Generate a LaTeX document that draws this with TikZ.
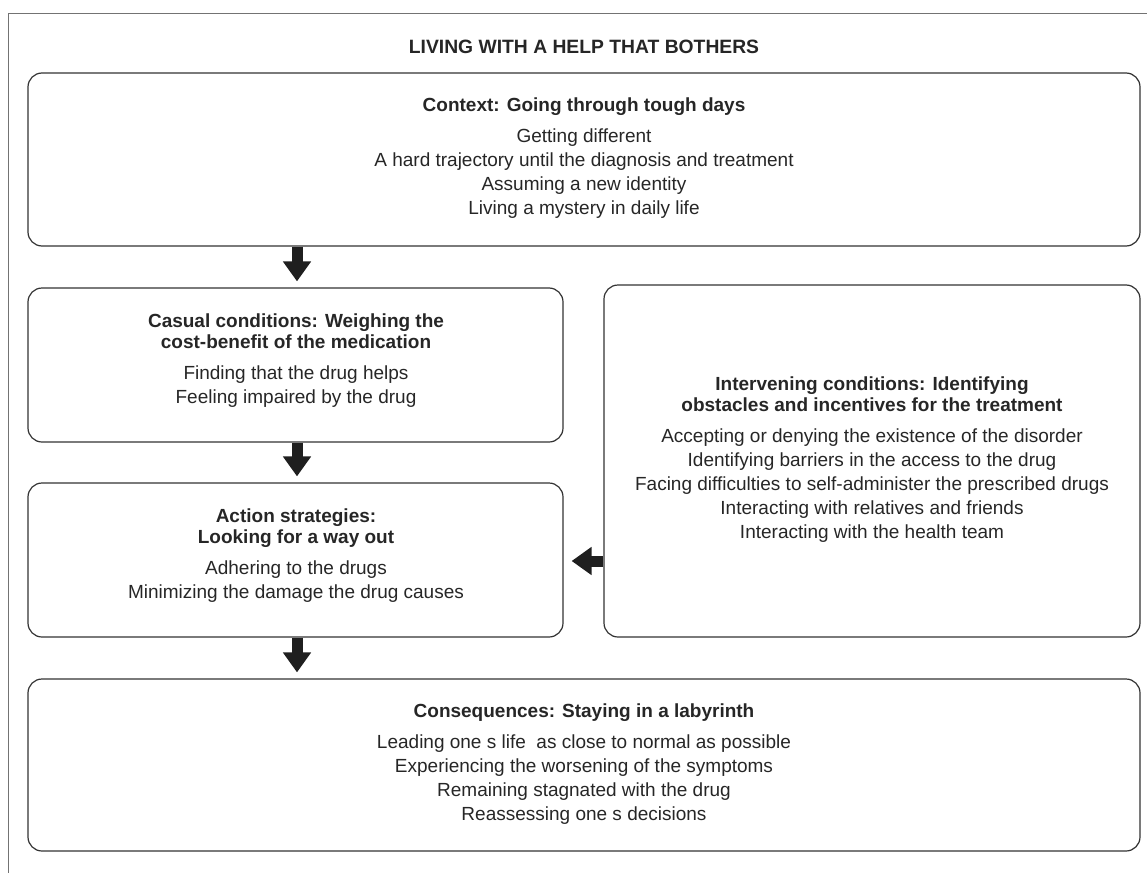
\documentclass[tikz,border=0pt]{standalone}
\usepackage{fontspec}
\setmainfont{Liberation Sans}
\usetikzlibrary{arrows.meta}
\begin{document}
\begin{tikzpicture}[x=1pt,y=-1pt,
  box/.style={draw=black!80,line width=1.2pt,rounded corners=14pt,inner sep=0pt},
  head/.style={font=\fontsize{19}{21}\selectfont\bfseries,align=center,inner sep=0pt,anchor=base,text=black!85},
  item/.style={font=\fontsize{19}{24}\selectfont,align=center,inner sep=0pt,anchor=base,text=black!85},
  flow/.style={-{Triangle[width=27pt,length=20pt]},line width=11pt,draw=black!88}]
\useasboundingbox (0,0) rectangle (1147,872);
\begin{scope}
  \clip (0,0) rectangle (1147,872);
  \draw[black!55,line width=0.9pt] (8,13) rectangle (1170,900);
\end{scope}
% title
\node[head,font=\fontsize{19.3}{21}\selectfont\bfseries] (title) at (584,54) {LIVING WITH A HELP THAT BOTHERS};
% boxes
\node[box,minimum width=1112pt,minimum height=173pt] (ctx) at (584,159.5) {};
\node[box,minimum width=535pt,minimum height=154pt] (cas) at (295.5,365) {};
\node[box,minimum width=536pt,minimum height=352pt] (int) at (872,461) {};
\node[box,minimum width=535pt,minimum height=154pt] (act) at (295.5,560) {};
\node[box,minimum width=1112pt,minimum height=172pt] (con) at (584,765) {};
% context
\node[head] (ctxh) at (584,111) {Context: Going through tough days};
\node[item] (ctx1) at (584,142) {Getting different};
\node[item] (ctx2) at (584,166) {A hard trajectory until the diagnosis and treatment};
\node[item] (ctx3) at (584,190) {Assuming a new identity};
\node[item] (ctx4) at (584,214) {Living a mystery in daily life};
% casual
\node[head] (cash1) at (296,327) {Casual conditions: Weighing the};
\node[head] (cash2) at (296,348) {cost-benefit of the medication};
\node[item] (cas1) at (296,379) {Finding that the drug helps};
\node[item] (cas2) at (296,403) {Feeling impaired by the drug};
% intervening
\node[head] (inth1) at (872,390) {Intervening conditions: Identifying};
\node[head] (inth2) at (872,411) {obstacles and incentives for the treatment};
\node[item] (int1) at (872,442) {Accepting or denying the existence of the disorder};
\node[item] (int2) at (872,466) {Identifying barriers in the access to the drug};
\node[item] (int3) at (872,490) {Facing difficulties to self-administer the prescribed drugs};
\node[item] (int4) at (872,514) {Interacting with relatives and friends};
\node[item] (int5) at (872,538) {Interacting with the health team};
% action
\node[head] (acth1) at (296,522) {Action strategies:};
\node[head] (acth2) at (296,543) {Looking for a way out};
\node[item] (act1) at (296,574) {Adhering to the drugs};
\node[item] (act2) at (296,598) {Minimizing the damage the drug causes};
% consequences
\node[head] (conh) at (584,717) {Consequences: Staying in a labyrinth};
\node[item] (con1) at (584,748) {Leading one s life\ \ as close to normal as possible};
\node[item] (con2) at (584,772) {Experiencing the worsening of the symptoms};
\node[item] (con3) at (584,796) {Remaining stagnated with the drug};
\node[item] (con4) at (584,820) {Reassessing one s decisions};
% arrows
\draw[flow,shorten >=6pt] (ctx.south -| 297,0) -- (cas.north -| 297,0);
\draw[flow,shorten >=6pt] (cas.south -| 297,0) -- (act.north -| 297,0);
\draw[flow,shorten >=6pt] (act.south -| 297,0) -- (con.north -| 297,0);
\draw[flow,shorten >=8pt] (int.west |- 0,561) -- (act.east |- 0,561);
\end{tikzpicture}
\end{document}
